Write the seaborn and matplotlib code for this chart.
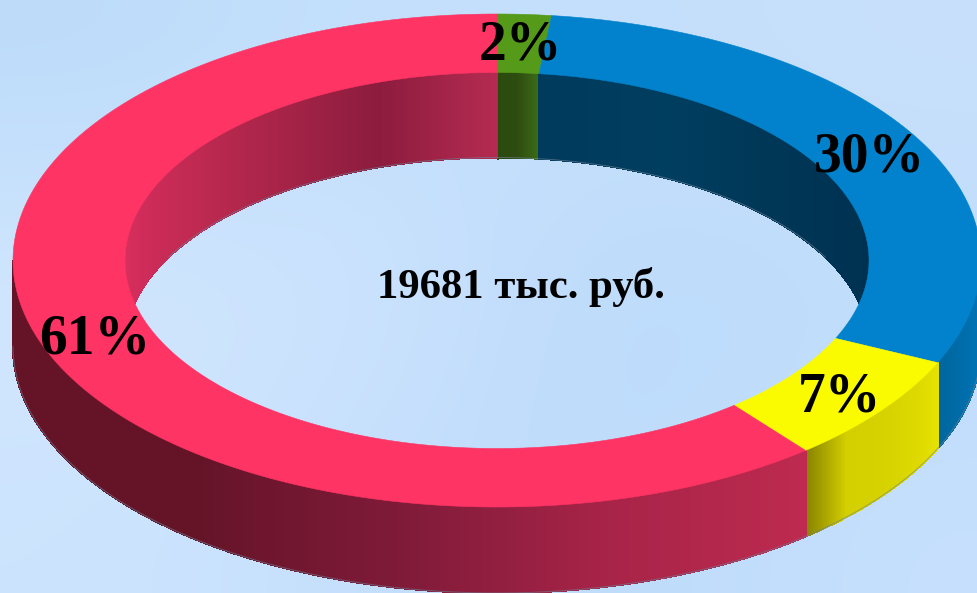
import numpy as np
import matplotlib
matplotlib.use("Agg")
import matplotlib.pyplot as plt
from matplotlib.collections import PolyCollection
from matplotlib.patches import Polygon
import seaborn as sns

# clockwise from 12 o'clock
names = ["green", "blue", "yellow", "red"]
shares = [1.8, 30, 7.2, 61]
share_labels = ["2%", "30%", "7%", "61%"]
total_label = "19681 тыс. руб."

top_colors = ["#569A1A", "#0282CC", "#FBFB00", "#FE3464"]
inner_ramps = [
    ["#2A4A0E", "#2E4C10", "#3C6A16"],
    ["#003A5C", "#003E60", "#003656", "#003353", "#00304E"],
    ["#8A8500", "#8A8500"],
    ["#DC3060", "#D02C5A", "#C02A52", "#A82448", "#8C1C3E", "#B42A50"],
]
outer_ramps = [
    ["#569A1A", "#569A1A"],
    ["#0078BE", "#0070B0", "#00669E"],
    ["#E6E200", "#DCD800", "#D6D200", "#D4D000", "#8A8500"],
    ["#BE2A50", "#A82448", "#7E1A38", "#651428", "#651428", "#651428"],
]

sns.set_theme(style="white")
plt.rcParams["font.family"] = ["Liberation Serif", "DejaVu Serif"]

cx, cy = 497, 260.5
rx_out, ry_out = 484, 246.5
rx_in, ry_in = 372, 188
depth_out = 86
depth_in = 85


def rim(theta, rx, ry):
    # theta in degrees, clockwise from the top
    t = np.radians(theta)
    return cx + rx * np.sin(t), cy - ry * np.cos(t)


def wall(theta, rx, ry, depth, colors):
    # thin quads standing on the rim, shaded along the slice
    x, y = rim(theta, rx, ry)
    quads = [[(x[i], y[i]), (x[i + 1], y[i + 1]),
              (x[i + 1], y[i + 1] + depth), (x[i], y[i] + depth)]
             for i in range(len(theta) - 1)]
    cmap = sns.blend_palette(colors, as_cmap=True)
    shades = cmap(np.linspace(0, 1, len(quads)))
    return PolyCollection(quads, facecolors=shades, edgecolors=shades,
                          linewidths=0.8, antialiaseds=False)


fig = plt.figure(figsize=(9.77, 5.93), dpi=100)
ax = fig.add_axes([0, 0, 1, 1])
ax.set_xlim(0, 977)
ax.set_ylim(593, 0)
ax.axis("off")

# soft blue backdrop
bg = np.array([
    ["#BDDCFA", "#C4E0FC", "#C4E0FC", "#C8E0FC"],
    ["#D4E8FF", "#CFE4FE", "#BAD9FB", "#BFDDFB"],
    ["#CDE4FE", "#C4DFFC", "#BDDBFB", "#C6E0FD"],
])
bg_rgb = np.array([[matplotlib.colors.to_rgb(c) for c in row] for row in bg])
ax.imshow(bg_rgb, extent=(0, 977, 593, 0), aspect="auto", interpolation="bicubic", zorder=0)

edges = np.concatenate([[0], np.cumsum(shares)]) * 3.6

# inner wall: only the far half can be seen
for i in range(len(shares)):
    for lo, hi in [(0, 90), (270, 360)]:
        a, b = max(edges[i], lo), min(edges[i + 1], hi)
        if a >= b:
            continue
        theta = np.linspace(a, b, 300)
        ax.add_collection(wall(theta, rx_in, ry_in, depth_in, inner_ramps[i])).set_zorder(2)

# lower edge of the far wall
theta = np.linspace(-62, 62, 300)
x, y = rim(theta, rx_in, ry_in)
ax.plot(x, y + depth_in, color="#6E8296", lw=0.6, alpha=0.7, zorder=2.2)

# top of the ring
for i in range(len(shares)):
    theta = np.linspace(edges[i], edges[i + 1], 200)
    ox, oy = rim(theta, rx_out, ry_out)
    ix, iy = rim(theta[::-1], rx_in, ry_in)
    pts = np.column_stack([np.r_[ox, ix], np.r_[oy, iy]])
    ax.add_patch(Polygon(pts, closed=True, facecolor=top_colors[i],
                         edgecolor=top_colors[i], linewidth=0.4, zorder=3))

# outer wall: the near half
for i in range(len(shares)):
    a, b = max(edges[i], 90), min(edges[i + 1], 270)
    if a >= b:
        continue
    theta = np.linspace(a, b, 600)
    ax.add_collection(wall(theta, rx_out, ry_out, depth_out, outer_ramps[i])).set_zorder(2.5)

# lower edge of the near wall
theta = np.linspace(90, 270, 500)
x, y = rim(theta, rx_out, ry_out)
ax.plot(x, y + depth_out, color="#6E8296", lw=0.7, alpha=0.6, zorder=2.6)

label_xy = [(520.5, 46), (869.5, 157), (840, 398), (95, 340)]
for txt, (x, y) in zip(share_labels, label_xy):
    ax.text(x, y, txt, ha="center", va="center", fontsize=40,
            fontweight="bold", color="black", zorder=5)
ax.text(521, 287, total_label, ha="center", va="center", fontsize=30.8,
        fontweight="bold", color="black", zorder=5)

fig.savefig("out.png", dpi=100)
